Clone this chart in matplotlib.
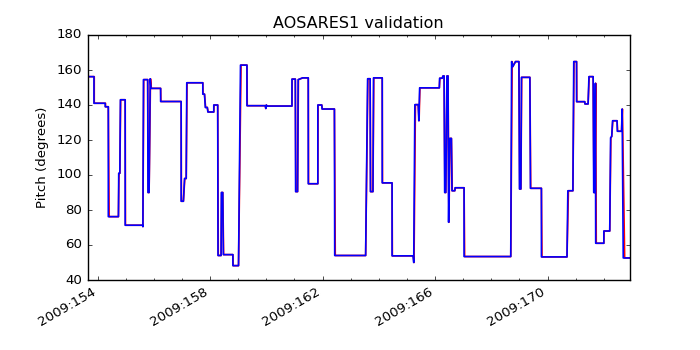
import matplotlib
matplotlib.use('Agg')
import matplotlib.pyplot as plt
from matplotlib.ticker import MultipleLocator, FuncFormatter

# pitch vs day of year 2009 (blue = observed, red = predicted)
blue_day = [153.64, 153.87, 153.87, 154.27, 154.27, 154.38, 154.38, 154.74, 154.75, 154.79,
            154.81, 154.98, 154.98, 155.60, 155.61, 155.63, 155.78, 155.79, 155.83, 155.87,
            155.90, 156.24, 156.24, 156.97, 156.97, 157.05, 157.09, 157.15, 157.17, 157.74,
            157.74, 157.80, 157.83, 157.90, 157.92, 158.13, 158.13, 158.27, 158.28, 158.39,
            158.40, 158.45, 158.47, 158.81, 158.81, 159.01, 159.08, 159.31, 159.31, 159.96,
            159.98, 160.00, 160.02, 160.91, 160.91, 161.03, 161.04, 161.11, 161.13, 161.29,
            161.49, 161.49, 161.83, 161.83, 161.97, 161.98, 162.42, 162.43, 163.53, 163.60,
            163.69, 163.70, 163.79, 163.81, 164.12, 164.12, 164.47, 164.47, 165.22, 165.24,
            165.28, 165.40, 165.42, 165.45, 166.15, 166.16, 166.25, 166.28, 166.32, 166.34,
            166.38, 166.42, 166.46, 166.48, 166.52, 166.58, 166.60, 166.70, 166.71, 167.03,
            167.03, 168.69, 168.72, 168.76, 168.86, 168.98, 169.00, 169.05, 169.07, 169.37,
            169.39, 169.78, 169.78, 170.69, 170.72, 170.90, 170.93, 171.03, 171.03, 171.32,
            171.33, 171.44, 171.47, 171.62, 171.64, 171.68, 171.70, 171.71, 172.00, 172.00,
            172.21, 172.24, 172.28, 172.31, 172.47, 172.48, 172.63, 172.65, 172.69, 172.93]
blue_pitch = [156.2, 156.2, 141.0, 141.0, 139.0, 139.0, 76.2, 76.2, 101.0, 101.0,
              143.0, 143.0, 71.3, 71.3, 70.5, 154.5, 154.5, 90.0, 90.0, 155.0,
              149.5, 149.5, 142.0, 142.0, 85.0, 85.0, 98.0, 98.0, 152.7, 152.7,
              146.2, 146.2, 138.6, 138.6, 136.0, 136.0, 140.0, 140.0, 54.0, 54.0,
              90.0, 90.0, 54.5, 54.5, 48.2, 48.2, 162.8, 162.8, 139.6, 139.6,
              138.0, 140.0, 139.4, 139.4, 154.8, 154.8, 90.5, 90.5, 154.5, 155.5,
              155.5, 95.0, 95.0, 140.0, 140.0, 137.7, 137.7, 54.0, 54.0, 155.0,
              155.0, 90.5, 90.5, 155.5, 155.5, 95.5, 95.5, 53.8, 53.8, 50.0,
              140.2, 140.2, 131.0, 149.8, 149.8, 155.3, 155.3, 156.6, 156.6, 90.0,
              90.0, 156.6, 156.6, 73.0, 120.9, 120.9, 91.0, 91.0, 92.7, 92.7,
              53.4, 53.4, 164.8, 161.9, 164.8, 164.8, 92.0, 92.0, 155.8, 155.8,
              92.4, 92.4, 53.2, 53.2, 91.0, 91.0, 164.8, 164.8, 141.9, 141.9,
              140.6, 140.6, 156.2, 156.2, 90.0, 90.0, 152.4, 61.0, 61.0, 68.0,
              68.0, 121.3, 122.0, 131.0, 131.0, 125.0, 125.0, 137.7, 52.6, 52.6]

# predicted pitch lags the observed one a little at the slews
red_day = [153.64, 153.88, 153.88, 154.28, 154.28, 154.38, 154.41, 154.74, 154.76, 154.79,
           154.82, 154.98, 154.99, 155.60, 155.61, 155.64, 155.78, 155.80, 155.83, 155.88,
           155.91, 156.24, 156.25, 156.97, 156.98, 157.05, 157.10, 157.15, 157.18, 157.74,
           157.75, 157.80, 157.84, 157.90, 157.93, 158.13, 158.14, 158.27, 158.29, 158.39,
           158.41, 158.45, 158.48, 158.81, 158.82, 159.01, 159.10, 159.31, 159.32, 159.96,
           159.98, 160.00, 160.02, 160.91, 160.92, 161.03, 161.05, 161.11, 161.14, 161.29,
           161.49, 161.50, 161.83, 161.84, 161.97, 161.99, 162.42, 162.45, 163.53, 163.61,
           163.69, 163.71, 163.79, 163.82, 164.12, 164.13, 164.47, 164.48, 165.22, 165.25,
           165.30, 165.40, 165.43, 165.46, 166.15, 166.17, 166.25, 166.29, 166.32, 166.35,
           166.38, 166.43, 166.46, 166.49, 166.53, 166.58, 166.61, 166.70, 166.72, 167.03,
           167.05, 168.69, 168.74, 168.76, 168.86, 168.98, 169.01, 169.05, 169.08, 169.37,
           169.40, 169.78, 169.80, 170.69, 170.74, 170.90, 170.94, 171.03, 171.04, 171.32,
           171.33, 171.44, 171.48, 171.62, 171.65, 171.68, 171.71, 171.73, 172.00, 172.01,
           172.21, 172.25, 172.28, 172.32, 172.47, 172.49, 172.63, 172.66, 172.74, 172.93]
red_pitch = [156.2, 156.2, 141.0, 141.0, 139.0, 139.0, 76.2, 76.2, 101.0, 101.0,
             143.0, 143.0, 71.3, 71.3, 70.5, 154.5, 154.5, 90.0, 90.0, 155.0,
             149.5, 149.5, 142.0, 142.0, 85.0, 85.0, 98.0, 98.0, 152.7, 152.7,
             146.2, 146.2, 138.6, 138.6, 136.0, 136.0, 140.0, 140.0, 54.0, 54.0,
             90.0, 90.0, 54.5, 54.5, 48.2, 48.2, 162.8, 162.8, 139.6, 139.6,
             138.0, 140.0, 139.4, 139.4, 154.8, 154.8, 90.5, 90.5, 154.5, 155.5,
             155.5, 95.0, 95.0, 140.0, 140.0, 137.7, 137.7, 54.0, 54.0, 155.0,
             155.0, 90.5, 90.5, 155.5, 155.5, 95.5, 95.5, 53.8, 53.8, 50.0,
             140.2, 140.2, 131.0, 149.8, 149.8, 155.3, 155.3, 156.6, 156.6, 90.0,
             90.0, 156.6, 156.6, 73.0, 120.9, 120.9, 91.0, 91.0, 92.7, 92.7,
             53.4, 53.4, 164.8, 161.9, 164.8, 164.8, 92.0, 92.0, 155.8, 155.8,
             92.4, 92.4, 53.2, 53.2, 91.0, 91.0, 164.8, 164.8, 141.9, 141.9,
             140.6, 140.6, 156.2, 156.2, 90.0, 90.0, 152.4, 61.0, 61.0, 68.0,
             68.0, 121.3, 122.0, 131.0, 131.0, 125.0, 125.0, 137.7, 52.6, 52.6]

plt.style.use('classic')
plt.rcParams['font.size'] = 9.6
plt.rcParams['xtick.major.size'] = 3.2
plt.rcParams['ytick.major.size'] = 3.2
plt.rcParams['xtick.minor.size'] = 1.6
plt.rcParams['ytick.minor.size'] = 1.6

fig = plt.figure(figsize=(7, 3.5), dpi=100, facecolor='white')
ax = fig.add_subplot(111)

ax.plot(red_day, red_pitch, color='r', lw=1.2)
ax.plot(blue_day, blue_pitch, color='b', lw=1.2)

ax.set_xlim(153.64, 172.93)
ax.set_ylim(40, 180)
ax.xaxis.set_major_locator(MultipleLocator(4, offset=2))
ax.xaxis.set_minor_locator(MultipleLocator(1))
ax.yaxis.set_major_locator(MultipleLocator(20))
ax.xaxis.set_major_formatter(FuncFormatter(lambda x, pos: '2009:%d' % round(x)))

ax.set_title('AOSARES1 validation')
ax.set_ylabel('Pitch (degrees)')
fig.autofmt_xdate()

fig.savefig('out.png', facecolor='white')
